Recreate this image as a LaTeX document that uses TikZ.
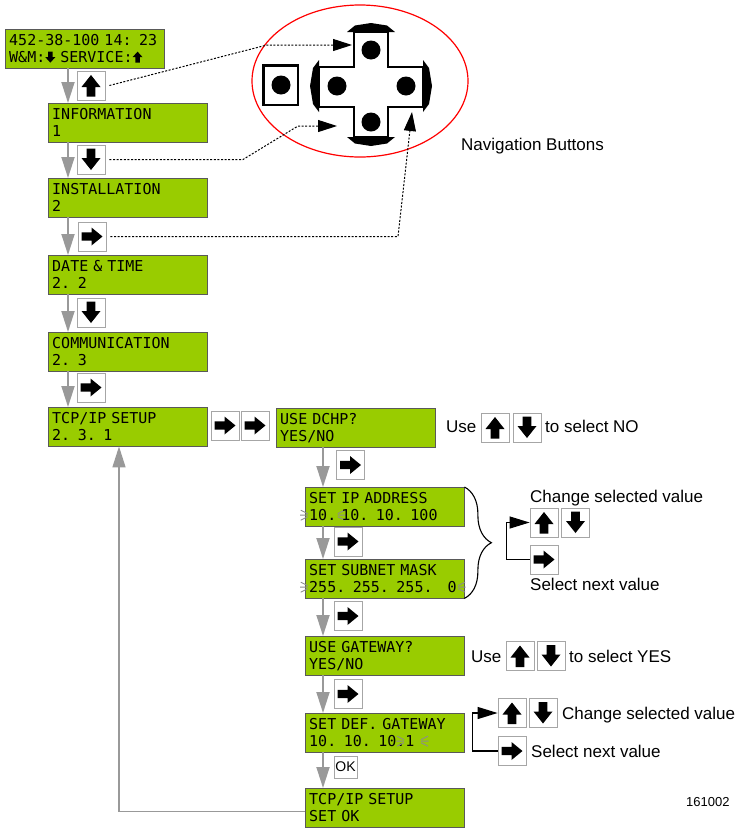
\documentclass[tikz,border=0pt]{standalone}
\usepackage{fontspec}
\setmainfont{Liberation Sans}
\newfontfamily\lcdfont[WordSpace=0.6]{DejaVu Sans Mono}
\usetikzlibrary{arrows.meta,decorations.pathreplacing}

\definecolor{lcdgreen}{RGB}{153,204,0}
\definecolor{flowgray}{RGB}{153,153,153}
\definecolor{raygray}{RGB}{140,140,140}

\newcommand{\lcdup}{\tikz[baseline=0pt]\fill[black] (-5pt,5.5pt) -- (0pt,11pt) -- (5pt,5.5pt) -- (2.2pt,5.5pt) -- (2.2pt,0pt) -- (-2.2pt,0pt) -- (-2.2pt,5.5pt) -- cycle;}
\newcommand{\lcddown}{\tikz[baseline=0pt]\fill[black] (-5pt,5.5pt) -- (0pt,0pt) -- (5pt,5.5pt) -- (2.2pt,5.5pt) -- (2.2pt,11pt) -- (-2.2pt,11pt) -- (-2.2pt,5.5pt) -- cycle;}
\newcommand{\blinkl}{\tikz[overlay,baseline=0pt]\draw[raygray,line width=0.9pt] (-1.5pt,5.5pt) -- (-9pt,5.5pt) (-1.5pt,7pt) -- (-8.5pt,10.5pt) (-1.5pt,4pt) -- (-8.5pt,0.5pt);}
\newcommand{\blinkr}{\tikz[overlay,baseline=0pt]\draw[raygray,line width=0.9pt] (1.5pt,5.5pt) -- (9pt,5.5pt) (1.5pt,7pt) -- (8.5pt,10.5pt) (1.5pt,4pt) -- (8.5pt,0.5pt);}

\tikzset{
	lcd/.style={draw=black!65, fill=lcdgreen, anchor=north west, minimum height=39pt,
		text width=151pt, inner xsep=4pt, inner ysep=2pt, align=left,
		font={\lcdfont\fontsize{15pt}{17pt}\selectfont}},
	kbtn/.style={draw=black!35, fill=white, minimum width=28pt, minimum height=29pt,
		inner sep=0pt, line width=0.8pt},
	kbtnup/.style={kbtn, path picture={\fill[black, shift={(path picture bounding box.center)}]
		(0pt,10.5pt) -- (9.5pt,-1.5pt) -- (4.3pt,-1.5pt) -- (4.3pt,-11pt) -- (-4.3pt,-11pt)
		-- (-4.3pt,-1.5pt) -- (-9.5pt,-1.5pt) -- cycle;}},
	kbtndown/.style={kbtn, path picture={\fill[black, shift={(path picture bounding box.center)}]
		(0pt,-10.5pt) -- (9.5pt,1.5pt) -- (4.3pt,1.5pt) -- (4.3pt,11pt) -- (-4.3pt,11pt)
		-- (-4.3pt,1.5pt) -- (-9.5pt,1.5pt) -- cycle;}},
	kbtnright/.style={kbtn, path picture={\fill[black, shift={(path picture bounding box.center)}]
		(10.5pt,0pt) -- (-0.5pt,9pt) -- (-0.5pt,4.2pt) -- (-10.5pt,4.2pt) -- (-10.5pt,-4.2pt)
		-- (-0.5pt,-4.2pt) -- (-0.5pt,-9pt) -- cycle;}},
	kbtnok/.style={kbtn, minimum width=23pt, minimum height=22pt,
		font={\fontsize{14pt}{16pt}\selectfont}},
	flow/.style={draw=flowgray, line width=1.8pt, -{Triangle[length=21pt,width=13pt]}},
	hint/.style={draw=black, line width=1pt, dash pattern=on 2pt off 1.6pt,
		-{Triangle[length=19pt,width=12pt]}},
	pickline/.style={draw=black, line width=1.2pt, -{Triangle[length=20pt,width=12pt]}},
	note/.style={anchor=base west, inner sep=0pt, font={\fontsize{17pt}{20pt}\selectfont}}
}

\begin{document}
\begin{tikzpicture}[x=1pt,y=-1pt]
	\useasboundingbox (0,0) rectangle (743,828);

	\node[lcd] (home)  at (5,29)   {452-38-100 14: 23\\W\&M:\lcddown{} SERVICE:\lcdup};
	\node[lcd] (info)  at (48,103) {INFORMATION\\1};
	\node[lcd] (inst)  at (48,178) {INSTALLATION\\2};
	\node[lcd] (date)  at (48,255) {DATE \& TIME\\2. 2};
	\node[lcd] (comm)  at (48,332) {COMMUNICATION\\2. 3};
	\node[lcd] (tcp)   at (48,407) {TCP/IP SETUP\\2. 3. 1};
	\node[lcd] (dchp)  at (276,408) {USE DCHP?\\YES/NO};
	\node[lcd] (ip)    at (305,487) {SET IP ADDRESS\\\blinkl{}10.\blinkr{} 10. 10. 100};
	\node[lcd] (mask)  at (305,559) {SET SUBNET MASK\\\blinkl{}255. 255. 255.~~~0\blinkr{}};
	\node[lcd] (usegw) at (305,636) {USE GATEWAY?\\YES/NO};
	\node[lcd] (defgw) at (305,713) {SET DEF. GATEWAY\\10. 10. 10.\blinkl{}1 \blinkr{}};
	\node[lcd] (setok) at (305,788) {TCP/IP SETUP\\SET OK};

	\node[kbtnup]    (kup)     at (91,85.5)  {};
	\node[kbtndown]  (kdown)   at (91,159.5) {};
	\node[kbtnright] (kright)  at (92,236.5) {};
	\node[kbtndown]  (kdown2)  at (91,312.5) {};
	\node[kbtnright] (kright2) at (91,387.5) {};
	\node[kbtnright] (tcpgo)   at (225,425.5) {};
	\node[kbtnright] (tcpgo2)  at (255,425.5) {};
	\node[kbtnright] (dchpgo)  at (350.5,465) {};
	\node[kbtnright] (ipgo)    at (348,541.5) {};
	\node[kbtnright] (maskgo)  at (348,616) {};
	\node[kbtnright] (usegwgo) at (348,694) {};
	\node[kbtnok]    (okgo)    at (345.5,767) {OK};

	\draw[flow] ([xshift=20pt]info.north west |- home.south) -- ([xshift=20pt]info.north west);
	\draw[flow] ([xshift=20pt]inst.north west |- info.south) -- ([xshift=20pt]inst.north west);
	\draw[flow] ([xshift=20pt]date.north west |- inst.south) -- ([xshift=20pt]date.north west);
	\draw[flow] ([xshift=20pt]comm.north west |- date.south) -- ([xshift=20pt]comm.north west);
	\draw[flow] ([xshift=20pt]tcp.north west |- comm.south) -- ([xshift=20pt]tcp.north west);
	\draw[flow] ([xshift=18pt]ip.north west |- dchp.south) -- ([xshift=18pt]ip.north west);
	\draw[flow] ([xshift=18pt]mask.north west |- ip.south) -- ([xshift=18pt]mask.north west);
	\draw[flow] ([xshift=18pt]usegw.north west |- mask.south) -- ([xshift=18pt]usegw.north west);
	\draw[flow] ([xshift=18pt]defgw.north west |- usegw.south) -- ([xshift=18pt]defgw.north west);
	\draw[flow] ([xshift=18pt]setok.north west |- defgw.south) -- ([xshift=18pt]setok.north west);
	\draw[flow, line width=1.4pt] ([yshift=-4pt]setok.west) -| ([xshift=71pt]tcp.south west);

	% navigation pad
	\draw[red, line width=1.2pt] (360,81) ellipse [x radius=108pt, y radius=76pt];
	\draw[line width=2.5pt] (263.5,65.5) rectangle (298,105);
	\fill (281,85) circle [radius=9.5pt];
	\draw[line width=2.5pt, fill=white] (354,32) -- (388,32) -- (388,67) -- (423,67) -- (423,107)
		-- (388,107) -- (388,137) -- (354,137) -- (354,107) -- (319,107) -- (319,67) -- (354,67) -- cycle;
	\fill (347,32) -- (355,25.5) -- (371,23) -- (387,25.5) -- (395,32) -- cycle;
	\fill (347,137) -- (355,143.5) -- (371,146) -- (387,143.5) -- (395,137) -- cycle;
	\fill (319,60) -- (313,68) -- (310,86) -- (313,104) -- (319,112) -- cycle;
	\fill (423,60) -- (429,68) -- (432,86) -- (429,104) -- (423,112) -- cycle;
	\fill (371,50) circle [radius=9.5pt];
	\fill (337,86) circle [radius=9.5pt];
	\fill (406,86) circle [radius=9.5pt];
	\fill (371,122) circle [radius=9.5pt];
	\node[note] (navlabel) at (461,150) {Navigation Buttons};

	\coordinate (navup)    at (352,45);
	\coordinate (navdown)  at (337,126);
	\coordinate (navright) at (412,112);
	\draw[hint] ([xshift=4pt]kup.east) -- (267,45) -- (navup);
	\draw[hint] ([xshift=4pt]kdown.east) -- (243,159.5) -- (298,126) -- (navdown);
	\draw[hint] ([xshift=4pt]kright.east) -- (398,236.5) -- (navright);

	% hints
	\node[note]     (dchpuse)  at (446,432)   {Use};
	\node[kbtnup]   (dchpup)   at (495,427.5) {};
	\node[kbtndown] (dchpdown) at (527,427.5) {};
	\node[note]     (dchpno)   at (545,432)   {to select NO};

	\draw[decorate, decoration={brace, amplitude=27pt}, line width=1.1pt] (ip.north east) -- (mask.south east);
	\node[note]      (ipchange) at (530,502)   {Change selected value};
	\node[kbtnup]    (ipup)     at (544,522.5) {};
	\node[kbtndown]  (ipdown)   at (575.5,522.5) {};
	\node[kbtnright] (ipnext)   at (544,559.5) {};
	\node[note]      (ipselect) at (530,590)   {Select next value};
	\draw[pickline] (ipnext.west) -- ++(-23,0) |- (ipup.west);

	\node[note]     (gwuse)  at (471,662) {Use};
	\node[kbtnup]   (gwup)   at (520,656) {};
	\node[kbtndown] (gwdown) at (551,656) {};
	\node[note]     (gwyes)  at (569,662) {to select YES};

	\node[kbtnup]    (gwvalup)   at (512,713) {};
	\node[kbtndown]  (gwvaldown) at (543,713) {};
	\node[note]      (gwchange)  at (562,719) {Change selected value};
	\node[kbtnright] (gwnext)    at (512,751) {};
	\node[note]      (gwselect)  at (531,757) {Select next value};
	\draw[pickline] (gwnext.west) -- ++(-25,0) |- (gwvalup.west);

	\node[anchor=base west, inner sep=0pt, font={\fontsize{13pt}{15pt}\selectfont}] (figno) at (686,806) {161002};

\end{tikzpicture}
\end{document}
